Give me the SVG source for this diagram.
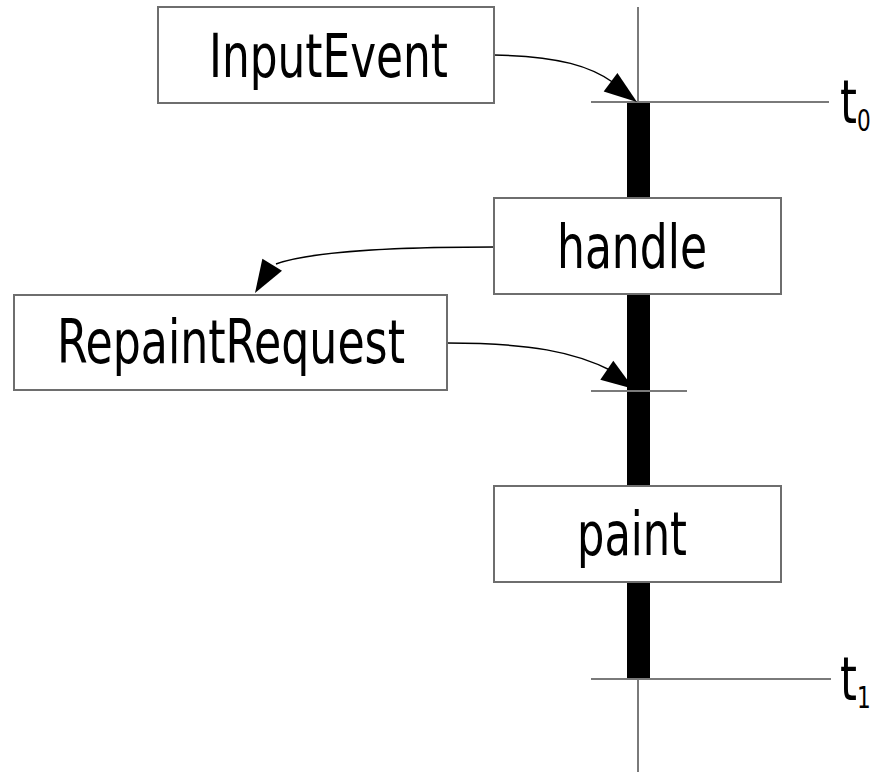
<svg xmlns="http://www.w3.org/2000/svg" xmlns:xlink="http://www.w3.org/1999/xlink" width="874" height="772" viewBox="0 0 874 772">
  <style>
    .box { fill: #ffffff; stroke: #6e6e6e; stroke-width: 2; }
    .lbl { font-family: "Liberation Sans Narrow", "DejaVu Sans Condensed", "Liberation Sans", sans-serif; font-size: 60px; fill: #000000; }
    .tl { font-family: "Liberation Sans Narrow", "DejaVu Sans Condensed", "Liberation Sans", sans-serif; font-size: 60px; fill: #000000; }
    .sub { font-size: 30px; }
    .axis { stroke: #7a7a7a; stroke-width: 2; fill: none; }
    .conn { stroke: #000000; stroke-width: 1.5; fill: none; }
    .head { fill: #000000; }
  </style>
  <defs>
    <path id="ah" d="M0,0 L-33,-11.5 L-33,11.5 Z"/>
  </defs>
  <rect width="874" height="772" fill="#ffffff"/>

  <g id="timeline">
    <line class="axis" x1="638" y1="7" x2="638" y2="772"/>
    <rect x="627" y="102" width="23" height="577" fill="#000000"/>
    <line class="axis" x1="591" y1="102" x2="829" y2="102"/>
    <line class="axis" x1="591" y1="391" x2="687" y2="391"/>
    <line class="axis" x1="591" y1="679" x2="831" y2="679"/>
  </g>

  <g id="t0">
    <text class="tl" transform="translate(840,123) scale(0.8,1)">t<tspan class="sub" dy="8">0</tspan></text>
  </g>
  <g id="t1">
    <text class="tl" transform="translate(840,700) scale(0.8,1)">t<tspan class="sub" dy="8">1</tspan></text>
  </g>

  <g id="connectors">
    <path class="conn" d="M494,55 C560,56 592,67 614,83"/>
    <use xlink:href="#ah" class="head" transform="translate(637,102) rotate(36.7)"/>
    <path class="conn" d="M494,247 C400,247 312,251 276,264"/>
    <use xlink:href="#ah" class="head" transform="translate(255,293) rotate(121.4)"/>
    <path class="conn" d="M447,343 C530,343 575,352 612,371"/>
    <use xlink:href="#ah" class="head" transform="translate(634,389) rotate(34.5)"/>
  </g>

  <g id="InputEvent">
    <rect class="box" x="158" y="7" width="336" height="96"/>
    <text class="lbl" x="209" y="77" textLength="239" lengthAdjust="spacingAndGlyphs">InputEvent</text>
  </g>

  <g id="handle">
    <rect class="box" x="494" y="198" width="287" height="96"/>
    <text class="lbl" x="557" y="268" textLength="150" lengthAdjust="spacingAndGlyphs">handle</text>
  </g>

  <g id="RepaintRequest">
    <rect class="box" x="14" y="295" width="433" height="95"/>
    <text class="lbl" x="57" y="363" textLength="348" lengthAdjust="spacingAndGlyphs">RepaintRequest</text>
  </g>

  <g id="paint">
    <rect class="box" x="494" y="486" width="287" height="96"/>
    <text class="lbl" x="577" y="555" textLength="110" lengthAdjust="spacingAndGlyphs">paint</text>
  </g>
</svg>
